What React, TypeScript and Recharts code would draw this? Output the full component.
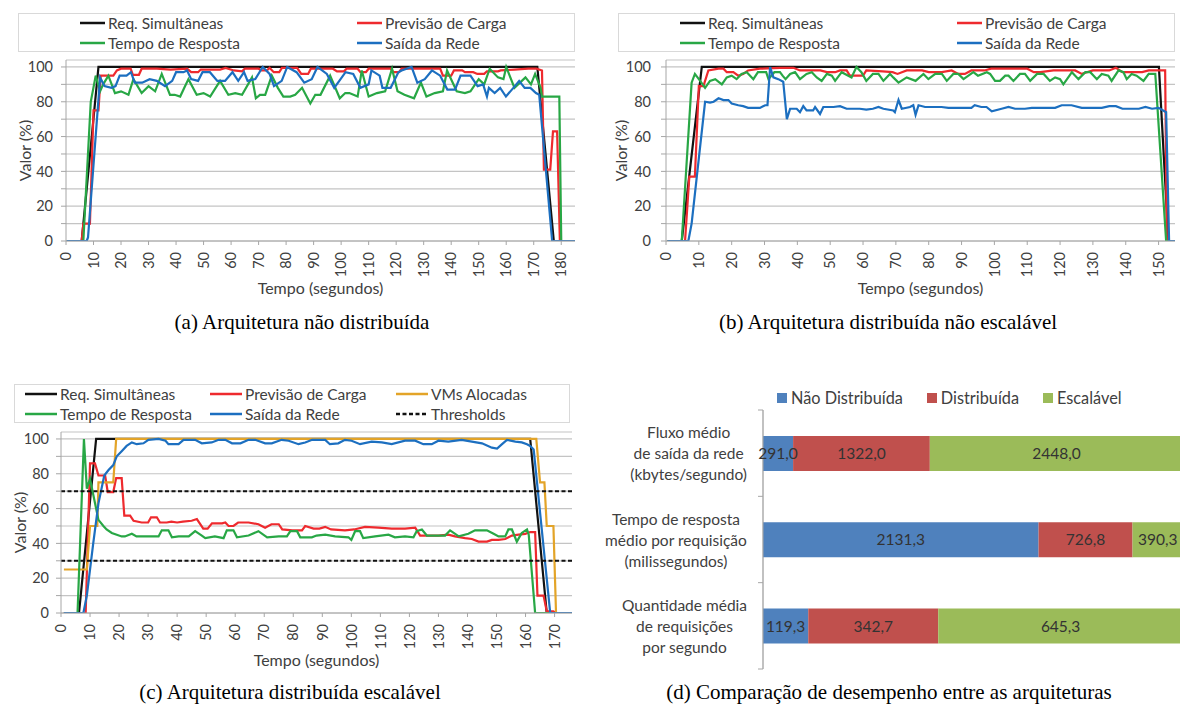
// @ts-nocheck
import React from 'react';
import {
  LineChart,
  Line,
  BarChart,
  Bar,
  XAxis,
  YAxis,
  CartesianGrid,
  Legend,
  ReferenceLine,
  Label,
  LabelList,
} from 'recharts';

const FONT = 'Lato, "Open Sans", sans-serif';
const SERIF = '"Liberation Serif", "DejaVu Serif", serif';
const INK = '#404040';
const GRID = '#c4c4c4';
const AXIS = '#a6a6a6';

const BLACK = '#111111';
const RED = '#ee2a2e';
const GREEN = '#28a745';
const BLUE = '#1c6fc0';
const ORANGE = '#e3a428';

// tick values
const yTicks = [0, 10, 20, 30, 40, 50, 60, 70, 80, 90, 100];
const xTicksA = [0, 10, 20, 30, 40, 50, 60, 70, 80, 90, 100, 110, 120, 130, 140, 150, 160, 170, 180];
const xTicksB = [0, 10, 20, 30, 40, 50, 60, 70, 80, 90, 100, 110, 120, 130, 140, 150];
const xTicksC = [0, 10, 20, 30, 40, 50, 60, 70, 80, 90, 100, 110, 120, 130, 140, 150, 160, 170];

// (a) arquitetura não distribuída  -- [tempo, valor]
const reqA = [[0.3, 0], [5.7, 0], [11.8, 100], [171.3, 100], [177.3, 0], [185, 0]];
const prevA = [
  [0.3, 0], [5.7, 0], [6.3, 10], [8.7, 10], [10, 75], [11.8, 75], [12.6, 95], [17.2, 95], [18.5, 98], [20, 99],
  [23.5, 99], [24.3, 95.5], [26.5, 95.5], [27.5, 99], [33, 99], [38, 98.5], [44, 99], [45.5, 97], [48, 97], [49, 98.5],
  [56, 98.5], [58, 99.5], [61, 98], [64, 97.5], [65, 99], [70, 99], [71, 98], [73, 98], [74, 99.5], [75.5, 97],
  [77.5, 97], [78.5, 99.5], [84, 99.5], [85.5, 96], [88, 96], [89, 99], [97, 99], [98.5, 97.5], [101, 97.5], [102, 99],
  [106, 99], [107, 97], [109, 97], [110, 99], [118, 99], [119, 97], [121, 97], [122, 99], [136, 99], [137, 95],
  [140, 95], [141, 98], [144, 98], [145, 97], [148, 97], [149.5, 96], [152, 96], [153, 97.5], [157, 97.5], [158, 98],
  [163, 98.5], [168, 99], [171, 99], [173, 98], [173.7, 41], [176, 41], [177, 63], [178.5, 63], [179.5, 0], [185, 0],
];
const respA = [
  [0.3, 0], [6.3, 0], [9, 80], [10.8, 95], [12.4, 86], [13.5, 90], [15.4, 95], [17.8, 85], [20, 86], [22.7, 84],
  [24.5, 93], [27.5, 85], [30, 89], [32.4, 86], [34.8, 96], [37.8, 84], [39.5, 84], [41.5, 83], [43, 88], [44.5, 93],
  [47.5, 84], [50, 85], [52.4, 83], [56, 92], [59, 84], [61.5, 85], [64, 84], [67.6, 94], [69, 82], [70.5, 84],
  [72.4, 84], [74.8, 95], [77, 88], [79, 83], [81.5, 83], [83.3, 84], [85.8, 88], [88.8, 79], [90.6, 84], [92.5, 84],
  [96, 95], [99.5, 82], [101.5, 85], [103, 85], [106, 83], [107.5, 98], [110, 83], [113, 85], [116, 86], [118.5, 99],
  [120.5, 86], [123, 84], [126.5, 82], [129, 91], [131, 83], [134, 85], [137, 86], [138.5, 98], [142, 86], [145, 85],
  [147, 86], [150, 93], [152, 90], [154, 99], [157, 94], [159, 93], [160, 100], [163, 88], [165, 91], [167, 94],
  [169, 90], [170.5, 96], [172.5, 88], [173, 83], [179.3, 83], [180, 0], [185, 0],
];
const redeA = [
  [0.3, 0], [7.5, 0], [8, 2], [12.4, 94], [14, 89], [16.5, 88], [18, 89], [19.5, 95], [22, 95], [23.6, 97],
  [25, 91], [27.7, 91], [30.4, 93], [33, 92], [36, 89], [38.6, 92], [40, 97], [42.7, 97], [44, 98], [45.5, 93],
  [48, 92], [49.6, 97], [52.3, 97], [55, 92], [57.8, 92], [60.5, 97], [62.6, 92], [64.7, 97], [66, 92], [68.8, 93],
  [71.5, 100], [74, 96], [75.6, 89], [78.4, 92], [80.4, 100], [83.8, 97], [86.6, 91], [89.3, 93], [91.4, 100], [94.8, 96],
  [97.5, 88], [101.6, 97], [104.4, 96], [107, 88], [110, 90], [111, 98], [114, 95], [115, 88], [118, 88], [120.8, 97],
  [122, 98], [125.6, 100], [127.7, 91], [130.4, 93], [133, 98], [136, 95], [138.6, 87], [141.4, 87], [143.4, 95], [147, 95],
  [149.6, 89], [151.6, 90], [153, 83], [153.7, 88], [155.8, 85], [157.8, 88], [159.9, 83], [162.6, 88], [164.7, 92], [166.7, 88],
  [168.8, 88], [170.8, 85], [172, 84], [176.7, 0], [185, 0],
];

// (b) arquitetura distribuída não escalável
const reqB = [[0.5, 0], [4.8, 0], [10.9, 100], [150.1, 100], [153, 0], [155, 0]];
const prevB = [
  [0.5, 0], [5.8, 0], [7.1, 37], [8.8, 37], [10, 89], [11.4, 89], [12.9, 98], [16, 99], [17.5, 99], [18.5, 97],
  [20.5, 97], [22, 95], [23.5, 96], [25, 98], [28.6, 99], [34.7, 99.5], [38.8, 99.5], [40.8, 98], [47, 98], [49, 97],
  [51.5, 97], [53, 98], [55, 98], [56, 95], [60, 95], [61, 98], [66, 97.5], [69, 97], [70.5, 96], [73.3, 98],
  [78, 98], [80, 97], [84, 97], [87, 98], [89, 96], [91, 96], [93, 98], [97, 98], [99, 99], [110, 99],
  [112, 97], [114, 97], [118, 98], [124.6, 98], [126.6, 96], [130, 98], [135, 98], [137, 99.5], [139, 97], [145, 97],
  [147, 98], [152, 98], [152.5, 0], [155, 0],
];
const respB = [
  [0.5, 0], [4.8, 0], [7.8, 91], [8.8, 96], [10.4, 92], [11.9, 88], [13.4, 92], [15, 93], [17, 90], [18.5, 94],
  [20, 95], [21.5, 93], [23, 96], [24.6, 97], [26.6, 93], [28, 97], [30.5, 97], [31.2, 93], [33, 97], [34.7, 97],
  [35.5, 95], [36.4, 93], [37.8, 96], [39.3, 97], [40.8, 93], [42.8, 96], [44.4, 97], [45.9, 94], [47.4, 92], [49, 96],
  [50.5, 95], [51.5, 92], [53.5, 97], [55.5, 95], [56.5, 94], [58, 100], [59.5, 97], [61, 92], [63, 96], [64.7, 96],
  [66.2, 92], [68.2, 96], [69.2, 94], [70.8, 91], [73.3, 94], [76, 92], [78.4, 96], [79.9, 93], [82, 96], [84, 96],
  [85.5, 92], [87.5, 96], [89, 96], [90.6, 93], [93.6, 97], [95, 95], [97.7, 97], [98.7, 96], [100.2, 92], [101.7, 92],
  [103.3, 95], [104.3, 95], [105.8, 92], [107.8, 96], [109.3, 96], [110.9, 92], [113, 96], [115, 96], [116.9, 92], [118.5, 94],
  [120, 93], [121, 90], [122.5, 94], [123.6, 97], [125.6, 93], [127.7, 97], [129.2, 97], [131.2, 93], [132.7, 96], [134.7, 95],
  [135.7, 92], [137.8, 98], [139.3, 97], [140.3, 93], [141.8, 96], [143.3, 95], [145.4, 92], [147, 96], [149, 96], [152.3, 0],
  [155, 0],
];
const redeB = [
  [0.5, 0], [6.8, 0], [7.8, 10], [11.9, 80], [13.4, 79.5], [14.5, 80], [16, 82], [17.5, 81], [19, 81], [20, 79],
  [22, 78], [23.5, 77.5], [25, 76.5], [28.6, 76.5], [30.2, 78], [30.9, 78], [31.7, 100], [32.7, 94], [34.2, 93], [35.7, 91.5],
  [36.8, 70], [37.8, 76], [39.8, 76], [40.8, 74], [41.8, 77.5], [42.8, 75], [44.8, 75], [45.4, 77], [46.9, 73], [47.9, 77],
  [51, 77], [53, 77.5], [55, 76], [59, 76], [61, 75.5], [63, 76], [64.7, 77], [66.2, 76], [69.2, 75], [69.7, 74],
  [70.8, 81], [71.8, 76], [74.3, 77], [75.3, 78], [76, 72.5], [76.9, 78], [78.9, 77], [83.9, 77], [86, 76.5], [93, 76.5],
  [94, 78], [96, 77], [97.6, 77], [99.2, 74.5], [102.2, 76], [104.3, 77], [106.3, 76], [109.3, 76], [111.4, 76.5], [118.5, 76.5],
  [120.5, 78], [123.5, 78], [126.6, 76.5], [132.7, 76.5], [135, 77.5], [137, 77.5], [139, 76], [144, 76], [146, 77], [148, 76],
  [150, 76.5], [152.3, 74], [153.2, 0], [155, 0],
];

// (c) arquitetura distribuída escalável
const reqC = [[1, 0], [6.2, 0], [12.1, 100], [161.6, 100], [167.3, 0], [176, 0]];
const prevC = [
  [1, 0], [8.5, 0], [10, 86], [11.7, 86], [12.9, 79], [15.2, 79], [16.1, 69.5], [18, 69.5], [19, 77.5], [20.9, 77.5],
  [21.8, 56], [23.8, 56], [25, 53], [27.8, 52], [30, 52], [31, 55], [33, 55], [34.1, 52], [36.4, 52], [38, 52.5],
  [40, 52], [42, 52.5], [45, 53], [46.8, 54], [49, 48.5], [50.5, 48.5], [52, 51.5], [55.5, 51.5], [56.6, 52], [57.7, 50],
  [59.4, 50], [61, 52], [64.6, 52], [68, 51], [70.3, 49], [72.5, 51], [75, 51], [76.2, 48], [79.7, 47.5], [83, 47.5],
  [84.1, 50], [87, 48.5], [89, 48.5], [91, 49.5], [93, 48], [97.8, 47.5], [101, 48], [104.7, 49.5], [109.3, 49], [113.9, 48.5],
  [118.5, 48.5], [122, 49], [123.7, 44.5], [130, 44.5], [133.4, 45], [135.7, 44], [139.2, 43], [141.5, 42.5], [143.8, 41], [146.7, 41],
  [148.4, 42], [150.7, 42], [153, 42.5], [155.3, 44.5], [157.6, 45], [159.9, 45.5], [161.6, 46.5], [163.3, 46.5], [164.1, 10], [166.2, 10],
  [167.3, 1], [169.6, 1], [170.4, 0], [176, 0],
];
const vmsC = [
  [1, 25], [8.9, 25], [10, 50], [12.5, 50], [12.9, 75], [18, 75], [19, 100], [163.7, 100], [165, 75], [166.5, 75],
  [167.3, 50], [169.6, 50], [170.5, 0], [176, 0],
];
const respC = [
  [1, 0], [5.7, 0], [7.9, 100], [8.9, 71.5], [10, 77], [12.9, 53.5], [14.6, 50], [15.7, 48], [17.5, 46], [19.2, 45],
  [20.9, 44], [22, 44], [24.4, 45.5], [26, 44], [29, 44], [33.6, 44], [34.7, 47.5], [37, 47.5], [38.2, 43.5], [40.5, 44],
  [44, 44], [46.2, 47], [48.5, 44.5], [49.7, 43], [53, 44], [56, 43], [57.1, 47.5], [59.4, 47.5], [60.6, 43.5], [64.6, 44.5],
  [68, 47], [71, 43.5], [75, 44], [77.8, 44], [79, 47], [81.3, 47], [82.4, 43.5], [86.4, 43.5], [88, 44.5], [91, 45],
  [94.4, 44], [99, 43.5], [100, 42], [101.3, 47], [103, 47], [104.1, 43], [108.2, 44], [112.8, 45], [115, 43.5], [118.5, 44],
  [121.4, 43.5], [122.5, 47], [124.3, 48], [126, 44.5], [132.3, 44.5], [134, 47.5], [137, 44], [140.3, 45.5], [142.6, 47.5], [146.7, 47.5],
  [149, 45.5], [150.7, 44], [153, 44], [154.1, 48], [155.3, 48], [157, 41], [158.7, 46], [160.5, 48], [161.1, 45], [163.3, 0],
  [176, 0],
];
const redeC = [
  [1, 0], [7.7, 0], [8.9, 10], [11.1, 40], [12.9, 63], [14.9, 79], [16.3, 82], [18, 85], [19.2, 90], [20.9, 93],
  [22.6, 96], [24.4, 98], [26.1, 97], [28.4, 97.5], [30.1, 99.5], [33.6, 100], [36, 99], [37, 97], [40.5, 97], [42.2, 99.5],
  [46.2, 99.5], [48.5, 97.5], [51.9, 98], [54.3, 99.5], [56.6, 99.5], [58.9, 97.5], [61.8, 97.5], [64.6, 99.5], [66.9, 99.5], [70.3, 97.5],
  [72.6, 97.5], [76, 99.5], [78.4, 99], [81.8, 97], [84.1, 98], [86.5, 99.5], [91, 99.5], [92.6, 97], [95.5, 97.5], [97.8, 99.5],
  [100.1, 99], [103, 97], [107, 98.5], [110.5, 98], [113.9, 97], [118.5, 99], [122, 99], [124.8, 97], [127.7, 97], [130, 99],
  [133.4, 98.5], [138, 99.5], [141.5, 98.5], [145, 97.5], [148.4, 95], [150.2, 94.5], [151.9, 97], [153.6, 99.5], [156.5, 98.5], [158.7, 98],
  [160.5, 97], [161.6, 96], [162.8, 94], [168.5, 0], [176, 0],
];
const thresholdsC = [30, 70];

// (d) comparação de desempenho
const categories = [
  'Fluxo médio\nde saída da rede\n(kbytes/segundo)',
  'Tempo de resposta\nmédio por requisição\n(milissegundos)',
  'Quantidade média\nde requisições\npor segundo',
];
const naoDistribuida = [291.0, 2131.3, 119.3];
const distribuida = [1322.0, 726.8, 342.7];
const escalavel = [2448.0, 390.3, 645.3];

const toPts = (arr) => arr.map(([t, v]) => ({ t, v }));
const fmtComma = (v) => Number(v).toFixed(1).replace('.', ',');

const seriesA = [
  { name: 'Req. Simultâneas', color: BLACK, pts: reqA },
  { name: 'Previsão de Carga', color: RED, pts: prevA },
  { name: 'Tempo de Resposta', color: GREEN, pts: respA },
  { name: 'Saída da Rede', color: BLUE, pts: redeA },
];
const seriesB = [
  { name: 'Req. Simultâneas', color: BLACK, pts: reqB },
  { name: 'Previsão de Carga', color: RED, pts: prevB },
  { name: 'Tempo de Resposta', color: GREEN, pts: respB },
  { name: 'Saída da Rede', color: BLUE, pts: redeB },
];
const seriesC = [
  { name: 'Req. Simultâneas', color: BLACK, pts: reqC },
  { name: 'Previsão de Carga', color: RED, pts: prevC },
  { name: 'VMs Alocadas', color: ORANGE, pts: vmsC },
  { name: 'Tempo de Resposta', color: GREEN, pts: respC },
  { name: 'Saída da Rede', color: BLUE, pts: redeC },
];

function BoxLegend({ items, colX, swatchW }) {
  return (
    <div
      style={{
        position: 'relative',
        width: '100%',
        height: '100%',
        boxSizing: 'border-box',
        border: '1px solid #d9d9d9',
        background: '#fff',
      }}
    >
      {items.map((it, i) => {
        const c = i % colX.length;
        const r = Math.floor(i / colX.length);
        return (
          <div
            key={it.name}
            style={{
              position: 'absolute',
              left: colX[c],
              top: r * 20 - 1,
              height: 20,
              display: 'flex',
              alignItems: 'center',
              whiteSpace: 'nowrap',
            }}
          >
            <svg width={swatchW} height={6} style={{ display: 'block' }}>
              <line
                x1={0}
                y1={3}
                x2={swatchW}
                y2={3}
                stroke={it.color}
                strokeWidth={2.5}
                strokeDasharray={it.dashed ? '4 2.5' : undefined}
              />
            </svg>
            <span style={{ marginLeft: 3, fontFamily: FONT, fontSize: 15.5, color: INK, lineHeight: '20px' }}>
              {it.name}
            </span>
          </div>
        );
      })}
    </div>
  );
}

function VTick({ x, y, payload }) {
  return (
    <text
      x={x}
      y={y}
      transform={`rotate(-90 ${x} ${y})`}
      textAnchor="end"
      dy="0.36em"
      fontSize={14.5}
      fontFamily={FONT}
      fill={INK}
    >
      {payload.value}
    </text>
  );
}

function LinePanel(p) {
  const items = p.thresholds
    ? [...p.series, { name: 'Thresholds', color: BLACK, dashed: true }]
    : p.series;
  const midX = (p.plotLeft + p.plotRight) / 2;
  const midY = (p.plotTop + p.plotBottom) / 2;
  return (
    <LineChart
      width={p.width}
      height={p.height}
      margin={{ top: p.plotTop, right: p.width - p.plotRight, bottom: 0, left: 0 }}
    >
      <CartesianGrid vertical={false} stroke={GRID} strokeWidth={1.2} />
      <XAxis
        type="number"
        dataKey="t"
        domain={[0, p.xMax]}
        ticks={p.xTicks}
        interval={0}
        allowDataOverflow
        height={p.height - p.plotBottom}
        tick={<VTick />}
        tickSize={4}
        tickMargin={7}
        axisLine={{ stroke: AXIS }}
        tickLine={{ stroke: AXIS }}
      >
        <Label
          content={() => (
            <text x={midX} y={p.xTitleY} textAnchor="middle" dominantBaseline="central" fontSize={16} fontFamily={FONT} fill={INK}>
              Tempo (segundos)
            </text>
          )}
        />
      </XAxis>
      <YAxis
        type="number"
        domain={[0, 104]}
        ticks={yTicks}
        interval={0}
        allowDataOverflow
        width={p.plotLeft}
        tickSize={5}
        tickMargin={p.yTickMargin}
        tickFormatter={(v) => (v % 20 === 0 ? String(v) : '')}
        tick={{ fontSize: 14.5, fill: INK, fontFamily: FONT }}
        axisLine={{ stroke: AXIS }}
        tickLine={{ stroke: AXIS }}
      >
        <Label
          content={() => (
            <text
              x={p.yTitleX}
              y={midY}
              transform={`rotate(-90 ${p.yTitleX} ${midY})`}
              textAnchor="middle"
              dominantBaseline="central"
              fontSize={16}
              fontFamily={FONT}
              fill={INK}
            >
              Valor (%)
            </text>
          )}
        />
      </YAxis>
      <Legend
        verticalAlign="middle"
        align="center"
        layout="horizontal"
        wrapperStyle={{ ...p.legendBox }}
        content={() => <BoxLegend items={items} colX={p.legendCols} swatchW={p.swatchW} />}
      />
      {p.series.map((s) => (
        <Line
          key={s.name}
          data={toPts(s.pts)}
          dataKey="v"
          name={s.name}
          type="linear"
          stroke={s.color}
          strokeWidth={2.2}
          dot={false}
          activeDot={false}
          isAnimationActive={false}
        />
      ))}
      {(p.thresholds || []).map((v) => (
        <ReferenceLine key={v} y={v} stroke={BLACK} strokeWidth={2} strokeDasharray="4 2.5" />
      ))}
    </LineChart>
  );
}

const CAT_FONT = 15.5;
let measureCtx = null;
function textWidth(s) {
  if (!measureCtx) measureCtx = document.createElement('canvas').getContext('2d');
  measureCtx.font = `${CAT_FONT}px ${FONT}`;
  return measureCtx.measureText(s).width;
}

function CatTick({ x, y, payload, index }) {
  const lines = String(payload.value).split('\n');
  const w = Math.max(...lines.map(textWidth));
  const cx = x - 8 - w / 2;
  const axisX = x + 8;
  const half = payload.offset || 0;
  return (
    <g>
      {lines.map((ln, i) => (
        <text
          key={i}
          x={cx}
          y={y + (i - (lines.length - 1) / 2) * 21}
          textAnchor="middle"
          dominantBaseline="central"
          fontSize={CAT_FONT}
          fontFamily={FONT}
          fill={INK}
        >
          {ln}
        </text>
      ))}
      {half > 0 && <line x1={axisX - 5} x2={axisX} y1={y - half} y2={y - half} stroke={AXIS} />}
      {half > 0 && index === categories.length - 1 && (
        <line x1={axisX - 5} x2={axisX} y1={y + half} y2={y + half} stroke={AXIS} />
      )}
    </g>
  );
}

const barSeries = [
  { key: 'nd', name: 'Não Distribuída', color: '#4f81bd' },
  { key: 'di', name: 'Distribuída', color: '#c0504d' },
  { key: 'es', name: 'Escalável', color: '#9bbb59' },
];

function BarLegend() {
  return (
    <div style={{ display: 'flex', alignItems: 'center', height: 20, whiteSpace: 'nowrap' }}>
      {barSeries.map((s) => (
        <div key={s.key} style={{ display: 'flex', alignItems: 'center', marginRight: 24 }}>
          <div style={{ width: 10, height: 10, background: s.color }} />
          <span style={{ marginLeft: 4, fontFamily: FONT, fontSize: 16.3, color: INK, lineHeight: '20px' }}>{s.name}</span>
        </div>
      ))}
    </div>
  );
}

function ComparisonPanel() {
  const rows = categories.map((name, i) => ({
    name,
    nd: naoDistribuida[i],
    di: distribuida[i],
    es: escalavel[i],
  }));
  return (
    <BarChart
      width={595}
      height={300}
      layout="vertical"
      data={rows}
      stackOffset="expand"
      barCategoryGap="30%"
      margin={{ top: 35, right: 2, bottom: 6, left: 0 }}
    >
      <CartesianGrid horizontal={false} stroke={GRID} strokeWidth={1.2} />
      <XAxis
        type="number"
        domain={[0, 1]}
        ticks={[0, 0.2, 0.4, 0.6, 0.8, 1]}
        height={0}
        tick={false}
        tickLine={false}
        axisLine={false}
      />
      <YAxis
        type="category"
        dataKey="name"
        width={173}
        tickLine={false}
        axisLine={{ stroke: AXIS }}
        tick={<CatTick />}
        interval={0}
      />
      <Legend
        verticalAlign="middle"
        align="center"
        layout="horizontal"
        wrapperStyle={{ left: 187, top: 13, width: 400, height: 20 }}
        content={() => <BarLegend />}
      />
      {barSeries.map((s) => (
        <Bar key={s.key} dataKey={s.key} name={s.name} stackId="s" fill={s.color} isAnimationActive={false}>
          <LabelList
            dataKey={s.key}
            position="center"
            formatter={fmtComma}
            fill="#333"
            fontSize={15.5}
            fontFamily={FONT}
          />
        </Bar>
      ))}
    </BarChart>
  );
}

const captionStyle = {
  position: 'absolute',
  fontFamily: SERIF,
  fontSize: 21,
  color: '#000',
  lineHeight: '24px',
  whiteSpace: 'nowrap',
  transform: 'translateX(-50%)',
};

export default function App() {
  return (
    <div
      style={{
        position: 'absolute',
        left: 0,
        top: 0,
        width: 1180,
        height: 707,
        overflow: 'hidden',
        background: '#fff',
      }}
    >
      <div style={{ position: 'absolute', left: 0, top: 0 }}>
        <LinePanel
          series={seriesA}
          width={590}
          height={300}
          plotLeft={66}
          plotRight={575}
          plotTop={60}
          plotBottom={241}
          xMax={185}
          xTicks={xTicksA}
          yTickMargin={8}
          yTitleX={24}
          xTitleY={287}
          legendBox={{ left: 18, top: 13, width: 557, height: 39 }}
          legendCols={[61, 338]}
          swatchW={25}
        />
      </div>
      <div style={{ position: 'absolute', left: 590, top: 0 }}>
        <LinePanel
          series={seriesB}
          width={590}
          height={300}
          plotLeft={76}
          plotRight={585}
          plotTop={60}
          plotBottom={241}
          xMax={155}
          xTicks={xTicksB}
          yTickMargin={10}
          yTitleX={30}
          xTitleY={287}
          legendBox={{ left: 28, top: 13, width: 557, height: 39 }}
          legendCols={[61, 338]}
          swatchW={25}
        />
      </div>
      <div style={{ position: 'absolute', left: 0, top: 375 }}>
        <LinePanel
          series={seriesC}
          thresholds={thresholdsC}
          width={590}
          height={300}
          plotLeft={61}
          plotRight={572}
          plotTop={57}
          plotBottom={238}
          xMax={176}
          xTicks={xTicksC}
          yTickMargin={7}
          yTitleX={19}
          xTitleY={284}
          legendBox={{ left: 14, top: 9, width: 556, height: 39 }}
          legendCols={[10, 195, 381]}
          swatchW={32}
        />
      </div>
      <div style={{ position: 'absolute', left: 590, top: 375 }}>
        <ComparisonPanel />
      </div>
      <div style={{ ...captionStyle, left: 302, top: 310 }}>(a) Arquitetura não distribuída</div>
      <div style={{ ...captionStyle, left: 888, top: 310 }}>(b) Arquitetura distribuída não escalável</div>
      <div style={{ ...captionStyle, left: 290, top: 680 }}>(c) Arquitetura distribuída escalável</div>
      <div style={{ ...captionStyle, left: 889, top: 680 }}>(d) Comparação de desempenho entre as arquiteturas</div>
    </div>
  );
}
